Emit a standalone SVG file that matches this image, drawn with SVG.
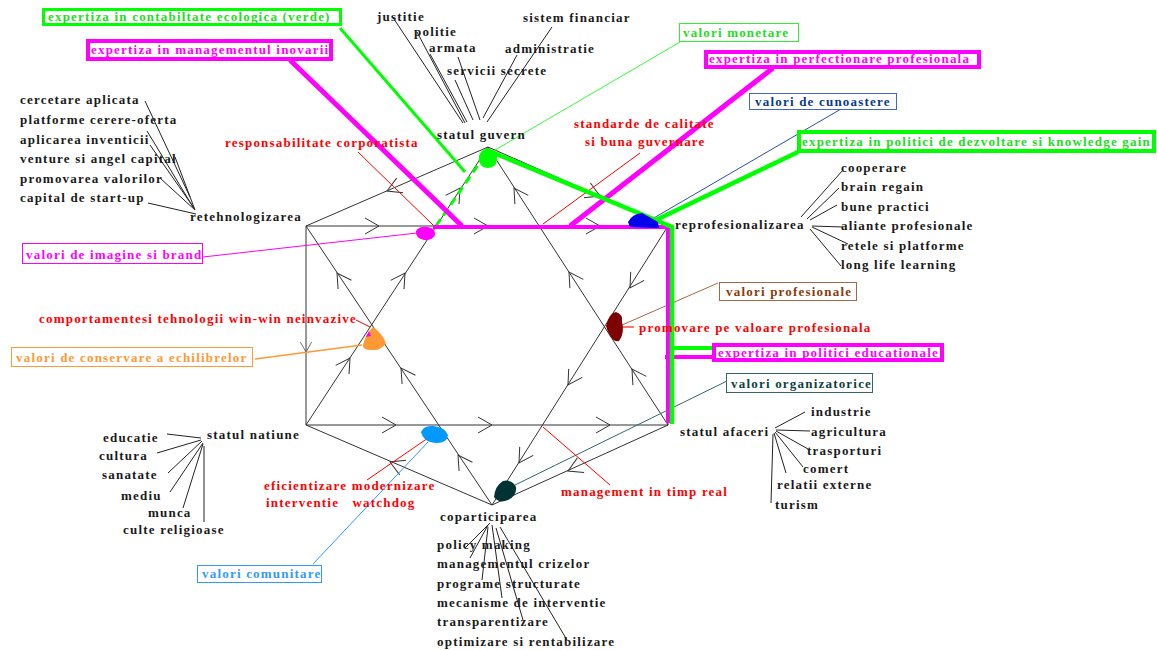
<svg xmlns="http://www.w3.org/2000/svg" xmlns:xlink="http://www.w3.org/1999/xlink" width="1157" height="650" viewBox="0 0 1157 650">
<style>
.t{font-family:"Liberation Serif","Times New Roman",serif;font-weight:bold;font-size:13px;letter-spacing:1.2px;fill:#1a1a1a}
.r{fill:#ff0000}.m{fill:#ff00ff}.g{fill:#22dd22}
.ln{stroke:#333;stroke-width:1;fill:none}
.fan{stroke:#222;stroke-width:1;fill:none}
.ah{stroke:#333;stroke-width:1;fill:none}
</style>
<defs>
<path id="ah" d="M-14,-8 L0,0 L-14,8"/>
</defs>
<rect width="1157" height="650" fill="#fff"/>
<g id="connectors">
  <!-- star of David / hexagon -->
  <g class="ln">
    <line x1="306" y1="226" x2="668" y2="226"/>
    <line x1="306" y1="425" x2="668" y2="425"/>
    <line x1="306" y1="226" x2="306" y2="425"/>
    <line x1="668" y1="226" x2="668" y2="425"/>
    <line x1="306" y1="226" x2="488" y2="147"/>
    <line x1="488" y1="147" x2="668" y2="226"/>
    <line x1="488" y1="147" x2="306" y2="425"/>
    <line x1="488" y1="147" x2="668" y2="425"/>
    <line x1="492" y1="505" x2="306" y2="226"/>
    <line x1="492" y1="505" x2="668" y2="226"/>
    <line x1="492" y1="505" x2="306" y2="425"/>
    <line x1="492" y1="505" x2="668" y2="425"/>
  </g>
  <!-- arrowheads -->
  <g class="ah">
    <use xlink:href="#ah" transform="translate(379,226)"/>
    <use xlink:href="#ah" transform="translate(488,226)"/>
    <use xlink:href="#ah" transform="translate(600,226)"/>
    <use xlink:href="#ah" transform="translate(396,425)"/>
    <use xlink:href="#ah" transform="translate(492,425)"/>
    <use xlink:href="#ah" transform="translate(610,425)"/>
    <use xlink:href="#ah" transform="translate(387,191) rotate(156.5)"/>
    <use xlink:href="#ah" transform="translate(600,196) rotate(23.7)"/>
    <use xlink:href="#ah" transform="translate(306,352) rotate(90) scale(0.7)"/>
    <use xlink:href="#ah" transform="translate(350,358) rotate(-56.8)"/>
    <use xlink:href="#ah" transform="translate(405,273) rotate(-56.8)"/>
    <use xlink:href="#ah" transform="translate(460,188) rotate(-56.8)"/>
    <use xlink:href="#ah" transform="translate(514,188) rotate(-122.9)"/>
    <use xlink:href="#ah" transform="translate(569,272) rotate(-122.9)"/>
    <use xlink:href="#ah" transform="translate(632,369) rotate(-122.9)"/>
    <use xlink:href="#ah" transform="translate(630,288) rotate(122.2)"/>
    <use xlink:href="#ah" transform="translate(568,385) rotate(122.2)"/>
    <use xlink:href="#ah" transform="translate(519,463) rotate(122.2)"/>
    <use xlink:href="#ah" transform="translate(337,273) rotate(-123.6)"/>
    <use xlink:href="#ah" transform="translate(401,368) rotate(-123.6)"/>
    <use xlink:href="#ah" transform="translate(458,455) rotate(-123.6)"/>
    <use xlink:href="#ah" transform="translate(390,462) rotate(203.5)"/>
    <use xlink:href="#ah" transform="translate(568,471) rotate(155.3)"/>
  </g>
  <!-- fan lines -->
  <g class="fan">
    <line x1="145" y1="101" x2="190" y2="197"/>
    <line x1="147" y1="131" x2="193" y2="207"/>
    <line x1="150" y1="145" x2="194" y2="208"/>
    <line x1="175" y1="157" x2="195" y2="210"/>
    <line x1="160" y1="178" x2="195" y2="210"/>
    <line x1="148" y1="203" x2="196" y2="214"/>

    <line x1="392" y1="16" x2="463" y2="123"/>
    <line x1="417" y1="32" x2="465" y2="123"/>
    <line x1="430" y1="54" x2="467" y2="122"/>
    <line x1="458" y1="57" x2="480" y2="120"/>
    <line x1="455" y1="80" x2="473" y2="120"/>
    <line x1="517" y1="55" x2="483" y2="118"/>
    <line x1="552" y1="27" x2="487" y2="122"/>

    <line x1="801" y1="217" x2="843" y2="170"/>
    <line x1="807" y1="219" x2="839" y2="188"/>
    <line x1="810" y1="220" x2="837" y2="205"/>
    <line x1="812" y1="226" x2="843" y2="227"/>
    <line x1="812" y1="227" x2="848" y2="244"/>
    <line x1="810" y1="229" x2="841" y2="266"/>

    <line x1="775" y1="428" x2="805" y2="412"/>
    <line x1="776" y1="430" x2="810" y2="431"/>
    <line x1="776" y1="431" x2="808" y2="449"/>
    <line x1="775" y1="432" x2="803" y2="467"/>
    <line x1="774" y1="433" x2="786" y2="473"/>
    <line x1="773" y1="434" x2="771" y2="503"/>

    <line x1="167" y1="434" x2="201" y2="438"/>
    <line x1="157" y1="453" x2="201" y2="440"/>
    <line x1="168" y1="473" x2="202" y2="441"/>
    <line x1="170" y1="492" x2="203" y2="443"/>
    <line x1="183" y1="508" x2="203" y2="444"/>
    <line x1="204" y1="522" x2="204" y2="446"/>

    <line x1="490" y1="523" x2="465" y2="548"/>
    <line x1="488" y1="525" x2="470" y2="558"/>
    <line x1="488" y1="527" x2="482" y2="580"/>
    <line x1="492" y1="525" x2="502" y2="598"/>
    <line x1="496" y1="528" x2="523" y2="620"/>
    <line x1="500" y1="527" x2="567" y2="640"/>
  </g>
  <!-- thin coloured leaders -->
  <line x1="680" y1="42" x2="490" y2="153" stroke="#33ff33" stroke-width="1"/>
  <line x1="841" y1="109" x2="652" y2="219" stroke="#2a4fa8" stroke-width="1"/>
  <line x1="358" y1="152" x2="433" y2="225" stroke="#ff0000" stroke-width="1"/>
  <line x1="640" y1="153" x2="543" y2="224" stroke="#ff0000" stroke-width="1"/>
  <line x1="203" y1="257" x2="417" y2="233" stroke="#ff00ff" stroke-width="1"/>
  <line x1="255" y1="359" x2="362" y2="345" stroke="#ff9933" stroke-width="1.3"/>
  <line x1="718" y1="283" x2="622" y2="325" stroke="#aa6644" stroke-width="1"/>
  <line x1="622" y1="327" x2="634" y2="327" stroke="#ff4444" stroke-width="1.5"/>
  <line x1="356" y1="320" x2="370" y2="327" stroke="#ff0000" stroke-width="1"/>
  <line x1="727" y1="381" x2="515" y2="485" stroke="#336666" stroke-width="1"/>
  <line x1="543" y1="427" x2="610" y2="485" stroke="#ff0000" stroke-width="1"/>
  <line x1="367" y1="480" x2="428" y2="438" stroke="#ff0000" stroke-width="1"/>
  <line x1="313" y1="564" x2="428" y2="442" stroke="#3399ff" stroke-width="1"/>
  <!-- thick expertise lines -->
  <g fill="none" stroke-linejoin="miter" stroke-linecap="butt">
    <line x1="340" y1="28" x2="465" y2="172" stroke="#00ff00" stroke-width="3"/>
    <line x1="436" y1="226" x2="487" y2="152" stroke="#00ff00" stroke-width="3" stroke-dasharray="8 5"/>
    <polyline points="290,60 462,226" stroke="#ff00ff" stroke-width="5"/>
    <polyline points="433,227 668,227 668,423" stroke="#ff00ff" stroke-width="4"/>
    <line x1="773" y1="68" x2="570" y2="226" stroke="#ff00ff" stroke-width="5"/>
    <line x1="665" y1="357" x2="713" y2="357" stroke="#ff00ff" stroke-width="4"/>
    <polyline points="487,150 672,227 672,424" stroke="#00ff00" stroke-width="4.5"/>
    <line x1="656" y1="220" x2="798" y2="152" stroke="#00ff00" stroke-width="4.5"/>
    <line x1="672" y1="348" x2="713" y2="348" stroke="#00ff00" stroke-width="4"/>
  </g>
  <!-- value blobs -->
  <path d="M479,156 Q482,147 490,149 Q498,151 497,160 Q496,168 487,168 Q478,167 479,156 Z" fill="#00ff00"/>
  <path d="M416,231 Q419,226 428,227 Q436,229 435,235 Q432,241 424,240 Q415,238 416,231 Z" fill="#ff00ff"/>
  <path d="M363,345 Q366,333 373,327 Q382,333 386,343 Q381,351 372,350 Q362,350 363,345 Z" fill="#ff9933"/>
  <path d="M366,337 L369,331 L371,336 Z" fill="#ff00ff"/>
  <path d="M606,326 Q609,313 616,312 Q623,314 622,322 Q625,333 619,341 Q611,343 606,326 Z" fill="#7f0000"/>
  <path d="M421,432 Q424,425 433,426 Q445,427 448,435 Q447,443 437,443 Q424,443 421,432 Z" fill="#0099ff"/>
  <path d="M494,497 Q495,486 503,481 Q512,479 516,487 Q517,496 508,500 Q499,504 494,497 Z" fill="#003333"/>
  <path d="M628,222 Q632,214 642,213 L658,222 L659,228 L630,227 Z" fill="#0000ee"/>
</g>

<g id="node-retehnologizarea">
  <text class="t" x="20" y="104">cercetare aplicata</text>
  <text class="t" x="20" y="124">platforme cerere-oferta</text>
  <text class="t" x="20" y="144">aplicarea inventicii</text>
  <text class="t" x="20" y="163">venture si angel capital</text>
  <text class="t" x="20" y="183">promovarea valorilor</text>
  <text class="t" x="20" y="202">capital de start-up</text>
  <text class="t" x="190" y="221">retehnologizarea</text>
</g>
<g id="node-statul-guvern">
  <text class="t" x="377" y="21">justitie</text>
  <text class="t" x="414" y="36">politie</text>
  <text class="t" x="429" y="52">armata</text>
  <text class="t" x="447" y="75">servicii secrete</text>
  <text class="t" x="523" y="22">sistem financiar</text>
  <text class="t" x="505" y="53">administratie</text>
  <text class="t" x="437" y="139">statul guvern</text>
</g>
<g id="node-reprofesionalizarea">
  <text class="t" x="675" y="229">reprofesionalizarea</text>
  <text class="t" x="841" y="172">cooperare</text>
  <text class="t" x="841" y="191">brain regain</text>
  <text class="t" x="841" y="211">bune practici</text>
  <text class="t" x="841" y="230">aliante profesionale</text>
  <text class="t" x="841" y="250">retele si platforme</text>
  <text class="t" x="841" y="269">long life learning</text>
</g>
<g id="node-statul-afaceri">
  <text class="t" x="680" y="436">statul afaceri</text>
  <text class="t" x="811" y="416">industrie</text>
  <text class="t" x="811" y="436">agricultura</text>
  <text class="t" x="807" y="455">trasporturi</text>
  <text class="t" x="803" y="473">comert</text>
  <text class="t" x="777" y="489">relatii externe</text>
  <text class="t" x="775" y="509">turism</text>
</g>
<g id="node-statul-natiune">
  <text class="t" x="207" y="439">statul natiune</text>
  <text class="t" x="103" y="442">educatie</text>
  <text class="t" x="99" y="460">cultura</text>
  <text class="t" x="102" y="479">sanatate</text>
  <text class="t" x="121" y="500">mediu</text>
  <text class="t" x="148" y="517">munca</text>
  <text class="t" x="123" y="534">culte religioase</text>
</g>
<g id="node-coparticiparea">
  <text class="t" x="440" y="521">coparticiparea</text>
  <text class="t" x="437" y="549">policy making</text>
  <text class="t" x="437" y="568">managementul crizelor</text>
  <text class="t" x="437" y="588">programe structurate</text>
  <text class="t" x="437" y="607">mecanisme de interventie</text>
  <text class="t" x="437" y="626">transparentizare</text>
  <text class="t" x="437" y="646">optimizare si rentabilizare</text>
</g>

<g id="node-expertiza-ecologica">
  <rect x="43.5" y="9.5" width="297" height="15" fill="#fff" stroke="#00ff00" stroke-width="3"/>
  <text class="t g" x="48" y="21">expertiza in contabiltate ecologica (verde)</text>
</g>
<g id="node-expertiza-inovarii">
  <rect x="88" y="41" width="243" height="18" fill="#fff" stroke="#ff00ff" stroke-width="4"/>
  <text class="t m" x="91" y="54">expertiza in managementul inovarii</text>
</g>
<g id="node-valori-monetare">
  <rect x="679.5" y="23.5" width="119" height="18" fill="#fff" stroke="#33ee33" stroke-width="1"/>
  <text class="t g" x="683" y="37">valori monetare</text>
</g>
<g id="node-expertiza-perfectionare">
  <rect x="706" y="52" width="273" height="15" fill="#fff" stroke="#ff00ff" stroke-width="4"/>
  <text class="t m" x="709" y="63">expertiza in perfectionare profesionala</text>
</g>
<g id="node-valori-cunoastere">
  <rect x="749.5" y="93.5" width="147" height="16" fill="#fff" stroke="#4466bb" stroke-width="1"/>
  <text class="t" style="fill:#0a3a8f" x="755" y="106">valori de cunoastere</text>
</g>
<g id="node-expertiza-dezvoltare">
  <rect x="799" y="132" width="355" height="19" fill="#fff" stroke="#00ff00" stroke-width="4"/>
  <text class="t g" x="802" y="146">expertiza in politici de dezvoltare si knowledge gain</text>
</g>
<g id="node-standarde">
  <text class="t r" x="574" y="128">standarde de calitate</text>
  <text class="t r" x="585" y="146">si buna guvernare</text>
</g>
<g id="node-responsabilitate">
  <text class="t r" x="225" y="147">responsabilitate corporatista</text>
</g>
<g id="node-valori-imagine">
  <rect x="22.5" y="243.5" width="180" height="20" fill="#fff" stroke="#ff00ff" stroke-width="1"/>
  <text class="t m" x="26" y="259">valori de imagine si brand</text>
</g>
<g id="node-valori-profesionale">
  <rect x="719.5" y="282.5" width="137" height="18" fill="#fff" stroke="#aa6644" stroke-width="1"/>
  <text class="t" style="fill:#8b3a0a" x="726" y="296">valori profesionale</text>
</g>
<g id="node-promovare">
  <text class="t r" x="639" y="332">promovare pe valoare profesionala</text>
</g>
<g id="node-comportamente">
  <text class="t r" x="39" y="323">comportamentesi tehnologii win-win neinvazive</text>
</g>
<g id="node-valori-conservare">
  <rect x="11.5" y="347.5" width="241" height="19" fill="#fff" stroke="#ff9933" stroke-width="1"/>
  <text class="t" style="fill:#ff9933" x="16" y="362">valori de conservare a echilibrelor</text>
</g>
<g id="node-expertiza-educationale">
  <rect x="714" y="345" width="228" height="15" fill="#fff" stroke="#ff00ff" stroke-width="4"/>
  <text class="t m" x="718" y="357">expertiza in politici educationale</text>
</g>
<g id="node-valori-organizatorice">
  <rect x="726.5" y="373.5" width="146" height="19" fill="#fff" stroke="#336666" stroke-width="1"/>
  <text class="t" style="fill:#0f3f3f" x="731" y="388">valori organizatorice</text>
</g>
<g id="node-eficientizare">
  <text class="t r" x="264" y="490">eficientizare modernizare</text>
  <text class="t r" x="266" y="507" xml:space="preserve">interventie   watchdog</text>
</g>
<g id="node-management-timp-real">
  <text class="t r" x="561" y="496">management in timp real</text>
</g>
<g id="node-valori-comunitare">
  <rect x="197.5" y="565.5" width="124" height="17" fill="#fff" stroke="#3399ff" stroke-width="1"/>
  <text class="t" style="fill:#3399ff" x="202" y="578">valori comunitare</text>
</g>
</svg>
